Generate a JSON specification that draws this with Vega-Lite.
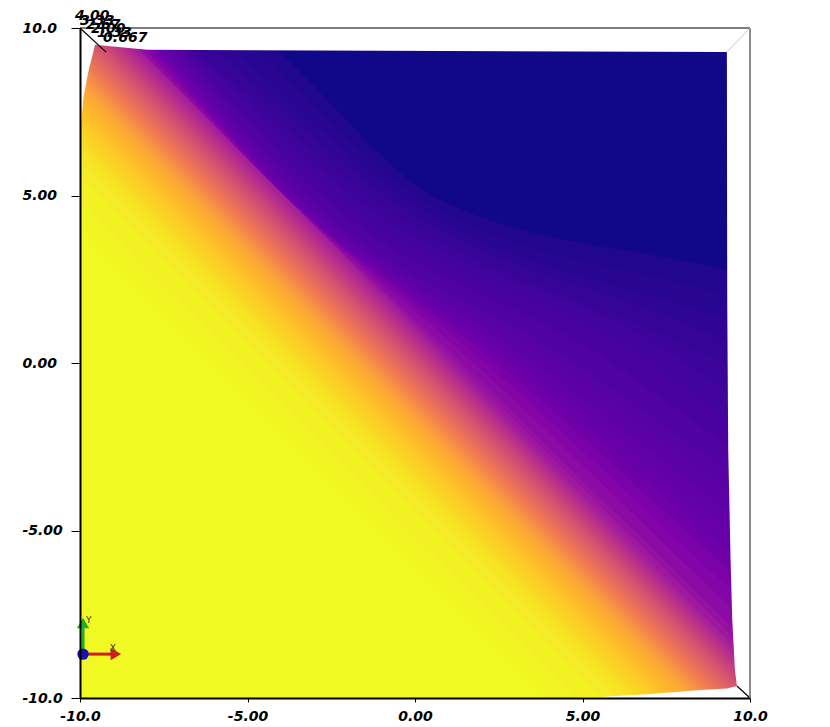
{
  "$schema": "https://vega.github.io/schema/vega-lite/v6.json",
  "width": 670,
  "height": 670,
  "autosize": {"type": "none"},
  "padding": {"left": 80, "top": 28, "right": 80, "bottom": 29},
  "background": "white",
  "config": {"view": {"stroke": null}, "axis": {"grid": false}},
  "datasets": {
    "curved": [
      {"l": 0, "z": 0.02, "x": -10, "y": 10}, {"l": 0, "z": 0.02, "x": 10, "y": 10},
      {"l": 1, "z": 0.125, "x": -10, "y": 14.79}, {"l": 1, "z": 0.125, "x": -4.03, "y": 9.28}, {"l": 1, "z": 0.125, "x": 0.75, "y": 4.87}, {"l": 1, "z": 0.125, "x": 9.31, "y": 2.78}, {"l": 1, "z": 0.125, "x": 10, "y": 2.61},
      {"l": 2, "z": 0.175, "x": -10, "y": 14.03}, {"l": 2, "z": 0.175, "x": -4.7, "y": 9.28}, {"l": 2, "z": 0.175, "x": 0.255, "y": 4.87}, {"l": 2, "z": 0.175, "x": 9.31, "y": 2.03}, {"l": 2, "z": 0.175, "x": 10, "y": 1.815},
      {"l": 3, "z": 0.23, "x": -10, "y": 13.26}, {"l": 3, "z": 0.23, "x": -5.37, "y": 9.28}, {"l": 3, "z": 0.23, "x": -0.24, "y": 4.87}, {"l": 3, "z": 0.23, "x": 9.31, "y": 1.28}, {"l": 3, "z": 0.23, "x": 10, "y": 1.02},
      {"l": 4, "z": 0.29, "x": -10, "y": 12.78}, {"l": 4, "z": 0.29, "x": -5.895, "y": 9.28}, {"l": 4, "z": 0.29, "x": -0.715, "y": 4.87}, {"l": 4, "z": 0.29, "x": 9.31, "y": 0.615}, {"l": 4, "z": 0.29, "x": 10, "y": 0.26},
      {"l": 5, "z": 0.35, "x": -10, "y": 12.3}, {"l": 5, "z": 0.35, "x": -6.42, "y": 9.28}, {"l": 5, "z": 0.35, "x": -1.19, "y": 4.87}, {"l": 5, "z": 0.35, "x": 9.04, "y": 0.09}, {"l": 5, "z": 0.35, "x": 9.31, "y": -0.05}, {"l": 5, "z": 0.35, "x": 10, "y": -0.5},
      {"l": 6, "z": 0.41, "x": -10, "y": 12.405}, {"l": 6, "z": 0.41, "x": -6.57, "y": 9.28}, {"l": 6, "z": 0.41, "x": -1.715, "y": 4.87}, {"l": 6, "z": 0.41, "x": 7.955, "y": 0.09}, {"l": 6, "z": 0.41, "x": 9.31, "y": -0.875}, {"l": 6, "z": 0.41, "x": 10, "y": -1.355},
      {"l": 7, "z": 0.47, "x": -10, "y": 12.51}, {"l": 7, "z": 0.47, "x": -6.72, "y": 9.28}, {"l": 7, "z": 0.47, "x": -2.24, "y": 4.87}, {"l": 7, "z": 0.47, "x": 6.87, "y": 0.09}, {"l": 7, "z": 0.47, "x": 9.31, "y": -1.7}, {"l": 7, "z": 0.47, "x": 10, "y": -2.21},
      {"l": 8, "z": 0.53, "x": -10, "y": 12.57}, {"l": 8, "z": 0.53, "x": -6.865, "y": 9.28}, {"l": 8, "z": 0.53, "x": -2.655, "y": 4.87}, {"l": 8, "z": 0.53, "x": 5.75, "y": 0.09}, {"l": 8, "z": 0.53, "x": 9.31, "y": -2.445}, {"l": 8, "z": 0.53, "x": 10, "y": -2.94},
      {"l": 9, "z": 0.59, "x": -10, "y": 12.63}, {"l": 9, "z": 0.59, "x": -7.01, "y": 9.28}, {"l": 9, "z": 0.59, "x": -3.07, "y": 4.87}, {"l": 9, "z": 0.59, "x": 4.63, "y": 0.09}, {"l": 9, "z": 0.59, "x": 9.31, "y": -3.19}, {"l": 9, "z": 0.59, "x": 10, "y": -3.67},
      {"l": 10, "z": 0.65, "x": -10, "y": 12.46}, {"l": 10, "z": 0.65, "x": -7.16, "y": 9.28}, {"l": 10, "z": 0.65, "x": -3.22, "y": 4.87}, {"l": 10, "z": 0.65, "x": 4.045, "y": 0.09}, {"l": 10, "z": 0.65, "x": 9.31, "y": -3.79}, {"l": 10, "z": 0.65, "x": 10, "y": -4.295},
      {"l": 11, "z": 0.71, "x": -10, "y": 12.29}, {"l": 11, "z": 0.71, "x": -7.31, "y": 9.28}, {"l": 11, "z": 0.71, "x": -3.37, "y": 4.87}, {"l": 11, "z": 0.71, "x": 3.46, "y": 0.09}, {"l": 11, "z": 0.71, "x": 9.31, "y": -4.39}, {"l": 11, "z": 0.71, "x": 10, "y": -4.92},
      {"l": 12, "z": 0.77, "x": -10, "y": 12.135}, {"l": 12, "z": 0.77, "x": -7.46, "y": 9.28}, {"l": 12, "z": 0.77, "x": -3.535, "y": 4.87}, {"l": 12, "z": 0.77, "x": 3.075, "y": 0.09}, {"l": 12, "z": 0.77, "x": 9.31, "y": -4.985}, {"l": 12, "z": 0.77, "x": 10, "y": -5.545},
      {"l": 13, "z": 0.85, "x": -10, "y": 11.98}, {"l": 13, "z": 0.85, "x": -7.61, "y": 9.28}, {"l": 13, "z": 0.85, "x": -3.7, "y": 4.87}, {"l": 13, "z": 0.85, "x": 2.69, "y": 0.09}, {"l": 13, "z": 0.85, "x": 9.31, "y": -5.58}, {"l": 13, "z": 0.85, "x": 10, "y": -6.17},
      {"l": 14, "z": 0.95, "x": -10, "y": 11.8}, {"l": 14, "z": 0.95, "x": -7.73, "y": 9.28}, {"l": 14, "z": 0.95, "x": -3.72, "y": 4.87}, {"l": 14, "z": 0.95, "x": 2.35, "y": 0.09}, {"l": 14, "z": 0.95, "x": 9.31, "y": -6.11}, {"l": 14, "z": 0.95, "x": 10, "y": -6.72},
      {"l": 15, "z": 1.05, "x": -10, "y": 11.62}, {"l": 15, "z": 1.05, "x": -7.85, "y": 9.28}, {"l": 15, "z": 1.05, "x": -3.74, "y": 4.87}, {"l": 15, "z": 1.05, "x": 2.01, "y": 0.09}, {"l": 15, "z": 1.05, "x": 9.31, "y": -6.64}, {"l": 15, "z": 1.05, "x": 10, "y": -7.27},
      {"l": 16, "z": 1.15, "x": -10, "y": 11.43}, {"l": 16, "z": 1.15, "x": -7.97, "y": 9.28}, {"l": 16, "z": 1.15, "x": -3.76, "y": 4.87}, {"l": 16, "z": 1.15, "x": 1.66, "y": 0.09}, {"l": 16, "z": 1.15, "x": 9.31, "y": -7.18}, {"l": 16, "z": 1.15, "x": 10, "y": -7.83},
      {"l": 17, "z": 1.25, "x": -10, "y": 11.24}, {"l": 17, "z": 1.25, "x": -8.1, "y": 9.28}, {"l": 17, "z": 1.25, "x": -3.78, "y": 4.87}, {"l": 17, "z": 1.25, "x": 1.3, "y": 0.09}, {"l": 17, "z": 1.25, "x": 9.31, "y": -7.73}, {"l": 17, "z": 1.25, "x": 10, "y": -8.41},
      {"l": 18, "z": 1.35, "x": -10, "y": 11.16}, {"l": 18, "z": 1.35, "x": -8.15, "y": 9.28}, {"l": 18, "z": 1.35, "x": -3.79, "y": 4.87}, {"l": 18, "z": 1.35, "x": 1.14, "y": 0.09}, {"l": 18, "z": 1.35, "x": 9.31, "y": -7.99}, {"l": 18, "z": 1.35, "x": 10, "y": -8.67},
      {"l": 19, "z": 1.45, "x": -10, "y": 11.07}, {"l": 19, "z": 1.45, "x": -8.21, "y": 9.28}, {"l": 19, "z": 1.45, "x": -3.8, "y": 4.87}, {"l": 19, "z": 1.45, "x": 0.98, "y": 0.09}, {"l": 19, "z": 1.45, "x": 9.31, "y": -8.24}, {"l": 19, "z": 1.45, "x": 10, "y": -8.93}
    ],
    "straight": [
      {"l": 20, "z": 1.525, "x": -10, "y": 10.918}, {"l": 20, "z": 1.525, "x": 10, "y": -9.082},
      {"l": 21, "z": 1.575, "x": -10, "y": 10.85}, {"l": 21, "z": 1.575, "x": 10, "y": -9.15},
      {"l": 22, "z": 1.625, "x": -10, "y": 10.782}, {"l": 22, "z": 1.625, "x": 10, "y": -9.218},
      {"l": 23, "z": 1.675, "x": -10, "y": 10.714}, {"l": 23, "z": 1.675, "x": 10, "y": -9.286},
      {"l": 24, "z": 1.725, "x": -10, "y": 10.645}, {"l": 24, "z": 1.725, "x": 10, "y": -9.355},
      {"l": 25, "z": 1.775, "x": -10, "y": 10.577}, {"l": 25, "z": 1.775, "x": 10, "y": -9.423},
      {"l": 26, "z": 1.825, "x": -10, "y": 10.509}, {"l": 26, "z": 1.825, "x": 10, "y": -9.491},
      {"l": 27, "z": 1.875, "x": -10, "y": 10.441}, {"l": 27, "z": 1.875, "x": 10, "y": -9.559},
      {"l": 28, "z": 1.925, "x": -10, "y": 10.37}, {"l": 28, "z": 1.925, "x": 10, "y": -9.63},
      {"l": 29, "z": 1.975, "x": -10, "y": 10.295}, {"l": 29, "z": 1.975, "x": 10, "y": -9.705},
      {"l": 30, "z": 2.025, "x": -10, "y": 10.22}, {"l": 30, "z": 2.025, "x": 10, "y": -9.78},
      {"l": 31, "z": 2.075, "x": -10, "y": 10.145}, {"l": 31, "z": 2.075, "x": 10, "y": -9.855},
      {"l": 32, "z": 2.125, "x": -10, "y": 10.07}, {"l": 32, "z": 2.125, "x": 10, "y": -9.93},
      {"l": 33, "z": 2.175, "x": -10, "y": 9.995}, {"l": 33, "z": 2.175, "x": 10, "y": -10.005},
      {"l": 34, "z": 2.225, "x": -10, "y": 9.92}, {"l": 34, "z": 2.225, "x": 10, "y": -10.08},
      {"l": 35, "z": 2.275, "x": -10, "y": 9.845}, {"l": 35, "z": 2.275, "x": 10, "y": -10.155},
      {"l": 36, "z": 2.325, "x": -10, "y": 9.7675}, {"l": 36, "z": 2.325, "x": 10, "y": -10.2325},
      {"l": 37, "z": 2.375, "x": -10, "y": 9.686}, {"l": 37, "z": 2.375, "x": 10, "y": -10.314},
      {"l": 38, "z": 2.425, "x": -10, "y": 9.605}, {"l": 38, "z": 2.425, "x": 10, "y": -10.395},
      {"l": 39, "z": 2.475, "x": -10, "y": 9.524}, {"l": 39, "z": 2.475, "x": 10, "y": -10.476},
      {"l": 40, "z": 2.525, "x": -10, "y": 9.4425}, {"l": 40, "z": 2.525, "x": 10, "y": -10.5575},
      {"l": 41, "z": 2.575, "x": -10, "y": 9.361}, {"l": 41, "z": 2.575, "x": 10, "y": -10.639},
      {"l": 42, "z": 2.625, "x": -10, "y": 9.28}, {"l": 42, "z": 2.625, "x": 10, "y": -10.72},
      {"l": 43, "z": 2.675, "x": -10, "y": 9.199}, {"l": 43, "z": 2.675, "x": 10, "y": -10.801},
      {"l": 44, "z": 2.725, "x": -10, "y": 9.117}, {"l": 44, "z": 2.725, "x": 10, "y": -10.883},
      {"l": 45, "z": 2.775, "x": -10, "y": 9.036}, {"l": 45, "z": 2.775, "x": 10, "y": -10.964},
      {"l": 46, "z": 2.825, "x": -10, "y": 8.954}, {"l": 46, "z": 2.825, "x": 10, "y": -11.046},
      {"l": 47, "z": 2.875, "x": -10, "y": 8.872}, {"l": 47, "z": 2.875, "x": 10, "y": -11.128},
      {"l": 48, "z": 2.925, "x": -10, "y": 8.79}, {"l": 48, "z": 2.925, "x": 10, "y": -11.21},
      {"l": 49, "z": 2.975, "x": -10, "y": 8.709}, {"l": 49, "z": 2.975, "x": 10, "y": -11.291},
      {"l": 50, "z": 3.025, "x": -10, "y": 8.627}, {"l": 50, "z": 3.025, "x": 10, "y": -11.373},
      {"l": 51, "z": 3.075, "x": -10, "y": 8.545}, {"l": 51, "z": 3.075, "x": 10, "y": -11.455},
      {"l": 52, "z": 3.125, "x": -10, "y": 8.464}, {"l": 52, "z": 3.125, "x": 10, "y": -11.536},
      {"l": 53, "z": 3.175, "x": -10, "y": 8.382}, {"l": 53, "z": 3.175, "x": 10, "y": -11.618},
      {"l": 54, "z": 3.225, "x": -10, "y": 8.3}, {"l": 54, "z": 3.225, "x": 10, "y": -11.7},
      {"l": 55, "z": 3.275, "x": -10, "y": 8.159}, {"l": 55, "z": 3.275, "x": 10, "y": -11.841},
      {"l": 56, "z": 3.325, "x": -10, "y": 8.019}, {"l": 56, "z": 3.325, "x": 10, "y": -11.981},
      {"l": 57, "z": 3.375, "x": -10, "y": 7.878}, {"l": 57, "z": 3.375, "x": 10, "y": -12.122},
      {"l": 58, "z": 3.425, "x": -10, "y": 7.7375}, {"l": 58, "z": 3.425, "x": 10, "y": -12.2625},
      {"l": 59, "z": 3.475, "x": -10, "y": 7.597}, {"l": 59, "z": 3.475, "x": 10, "y": -12.403},
      {"l": 60, "z": 3.525, "x": -10, "y": 7.456}, {"l": 60, "z": 3.525, "x": 10, "y": -12.544},
      {"l": 61, "z": 3.575, "x": -10, "y": 7.293}, {"l": 61, "z": 3.575, "x": 10, "y": -12.707},
      {"l": 62, "z": 3.625, "x": -10, "y": 7.114}, {"l": 62, "z": 3.625, "x": 10, "y": -12.886},
      {"l": 63, "z": 3.675, "x": -10, "y": 6.936}, {"l": 63, "z": 3.675, "x": 10, "y": -13.064},
      {"l": 64, "z": 3.725, "x": -10, "y": 6.757}, {"l": 64, "z": 3.725, "x": 10, "y": -13.243},
      {"l": 65, "z": 3.775, "x": -10, "y": 6.579}, {"l": 65, "z": 3.775, "x": 10, "y": -13.421},
      {"l": 66, "z": 3.825, "x": -10, "y": 6.4}, {"l": 66, "z": 3.825, "x": 10, "y": -13.6},
      {"l": 67, "z": 3.875, "x": -10, "y": 6.0}, {"l": 67, "z": 3.875, "x": 10, "y": -14.0},
      {"l": 68, "z": 3.925, "x": -10, "y": 5.6}, {"l": 68, "z": 3.925, "x": 10, "y": -14.4},
      {"l": 69, "z": 3.975, "x": -10, "y": 4.8}, {"l": 69, "z": 3.975, "x": 10, "y": -15.2},
      {"l": 70, "z": 4.0, "x": -10, "y": 4.0}, {"l": 70, "z": 4.0, "x": 10, "y": -16.0}
    ],
    "maskTop": [
      {"x": -10, "y": 10, "y2": 6.8}, {"x": -9.9, "y": 10, "y2": 7.9}, {"x": -9.75, "y": 10, "y2": 8.7},
      {"x": -9.55, "y": 10, "y2": 9.5}, {"x": -8, "y": 10, "y2": 9.35}, {"x": 9.31, "y": 10, "y2": 9.28},
      {"x": 9.32, "y": 10, "y2": 1.88}, {"x": 9.35, "y": 10, "y2": -2.6}, {"x": 9.42, "y": 10, "y2": -5.88},
      {"x": 9.47, "y": 10, "y2": -7.67}, {"x": 9.55, "y": 10, "y2": -9.16}, {"x": 9.61, "y": 10, "y2": -9.64},
      {"x": 9.62, "y": 10, "y2": -10}, {"x": 10, "y": 10, "y2": -10}
    ],
    "maskBottom": [
      {"x": 4.0, "y": -10, "y2": -10}, {"x": 5.52, "y": -9.97, "y2": -10}, {"x": 7.01, "y": -9.88, "y2": -10},
      {"x": 8.51, "y": -9.76, "y2": -10}, {"x": 9.31, "y": -9.72, "y2": -10}, {"x": 9.61, "y": -9.64, "y2": -10},
      {"x": 10, "y": -9.64, "y2": -10}
    ],
    "boxBlack": [
      {"x": -10, "y": 10, "x2": 10, "y2": 10},
      {"x": -10, "y": 10, "x2": -9.22, "y2": 9.28},
      {"x": 10, "y": -10, "x2": 9.61, "y2": -9.64}
    ],
    "boxGray": [{"x": 10, "y": 10, "x2": 10, "y2": -10}],
    "boxLight": [{"x": 10, "y": 10, "x2": 9.31, "y2": 9.28}],
    "zLabels": [
      {"x": -10.15, "y": 10.36, "label": "4.00"},
      {"x": -10.0, "y": 10.22, "label": "3.33"},
      {"x": -9.82, "y": 10.09, "label": "2.67"},
      {"x": -9.67, "y": 9.97, "label": "2.00"},
      {"x": -9.49, "y": 9.84, "label": "1.33"},
      {"x": -9.31, "y": 9.7, "label": "0.667"}
    ],
    "shaftX": [{"x": -9.91, "y": -8.69, "x2": -8.99, "y2": -8.69}],
    "shaftY": [{"x": -9.91, "y": -8.69, "x2": -9.91, "y2": -7.91}],
    "headX": [{"x": -8.93, "y": -8.69}],
    "headY": [{"x": -9.91, "y": -7.76}],
    "origin": [{"x": -9.91, "y": -8.69}],
    "triadLabels": [{"x": -9.02, "y": -8.5, "label": "X"}, {"x": -9.74, "y": -7.67, "label": "Y"}]
  },
  "encoding": {
    "x": {
      "field": "x", "type": "quantitative", "title": null,
      "scale": {"domain": [-10, 10], "nice": false, "zero": false},
      "axis": {
        "title": null, "values": [-10, -5, 0, 5, 10],
        "labelExpr": "datum.value==10?'10.0':datum.value==-10?'-10.0':datum.value==5?'5.00':datum.value==-5?'-5.00':'0.00'",
        "domainColor": "black", "domainWidth": 2, "tickColor": "black", "tickSize": 4, "tickWidth": 1,
        "labelPadding": 7, "labelFont": "DejaVu Sans", "labelFontStyle": "italic", "labelFontWeight": "bold", "labelFontSize": 14,
        "labelColor": "black", "labelFlush": false, "labelOverlap": false, "grid": false, "zindex": 1
      }
    },
    "y": {
      "field": "y", "type": "quantitative", "title": null, "stack": null,
      "scale": {"domain": [-10, 10], "nice": false, "zero": false},
      "axis": {
        "title": null, "values": [-10, -5, 0, 5, 10],
        "labelExpr": "datum.value==10?'10.0':datum.value==-10?'-10.0':datum.value==5?'5.00':datum.value==-5?'-5.00':'0.00'",
        "domainColor": "black", "domainWidth": 2, "tickColor": "black", "tickSize": 9, "tickWidth": 1,
        "labelPadding": 49, "labelAlign": "left", "labelBaseline": "middle",
        "labelFont": "DejaVu Sans", "labelFontStyle": "italic", "labelFontWeight": "bold", "labelFontSize": 14,
        "labelColor": "black", "labelFlush": false, "labelOverlap": false, "grid": false, "zindex": 1
      }
    }
  },
  "layer": [
    {
      "data": {"name": "curved"},
      "mark": {"type": "area", "interpolate": "monotone", "clip": true},
      "encoding": {
        "y2": {"datum": -10},
        "fill": {"field": "z", "type": "quantitative", "scale": {"scheme": "plasma", "domain": [0, 4]}, "legend": null},
        "detail": {"field": "l", "type": "nominal"}
      }
    },
    {
      "data": {"name": "straight"},
      "mark": {"type": "area", "interpolate": "linear", "clip": true},
      "encoding": {
        "y2": {"datum": -10},
        "fill": {"field": "z", "type": "quantitative", "scale": {"scheme": "plasma", "domain": [0, 4]}, "legend": null},
        "detail": {"field": "l", "type": "nominal"}
      }
    },
    {
      "data": {"name": "maskTop"},
      "mark": {"type": "area", "color": "white", "interpolate": "linear"},
      "encoding": {"y2": {"field": "y2"}}
    },
    {
      "data": {"name": "maskBottom"},
      "mark": {"type": "area", "color": "white", "interpolate": "linear"},
      "encoding": {"y2": {"field": "y2"}}
    },
    {
      "data": {"name": "boxBlack"},
      "mark": {"type": "rule", "color": "black", "strokeWidth": 1.2},
      "encoding": {"x2": {"field": "x2"}, "y2": {"field": "y2"}}
    },
    {
      "data": {"name": "boxGray"},
      "mark": {"type": "rule", "color": "#8c8c8c", "strokeWidth": 2},
      "encoding": {"x2": {"field": "x2"}, "y2": {"field": "y2"}}
    },
    {
      "data": {"name": "boxLight"},
      "mark": {"type": "rule", "color": "#c8c8c8", "strokeWidth": 1},
      "encoding": {"x2": {"field": "x2"}, "y2": {"field": "y2"}}
    },
    {
      "data": {"name": "shaftX"},
      "mark": {"type": "rule", "color": "#d01c1c", "strokeWidth": 3},
      "encoding": {"x2": {"field": "x2"}, "y2": {"field": "y2"}}
    },
    {
      "data": {"name": "shaftY"},
      "mark": {"type": "rule", "color": "#1fb01f", "strokeWidth": 3},
      "encoding": {"x2": {"field": "x2"}, "y2": {"field": "y2"}}
    },
    {
      "data": {"name": "headX"},
      "mark": {"type": "point", "shape": "triangle-right", "filled": true, "color": "#d01c1c", "size": 150, "opacity": 1},
      "encoding": {}
    },
    {
      "data": {"name": "headY"},
      "mark": {"type": "point", "shape": "triangle-up", "filled": true, "color": "#1fb01f", "size": 150, "opacity": 1},
      "encoding": {}
    },
    {
      "data": {"name": "origin"},
      "mark": {"type": "point", "shape": "circle", "filled": true, "color": "#1414b4", "size": 130, "opacity": 1},
      "encoding": {}
    },
    {
      "data": {"name": "triadLabels"},
      "mark": {"type": "text", "font": "DejaVu Sans", "fontSize": 9, "color": "#333333", "align": "center", "baseline": "middle"},
      "encoding": {"text": {"field": "label"}}
    },
    {
      "data": {"name": "zLabels"},
      "mark": {"type": "text", "font": "DejaVu Sans", "fontSize": 14, "fontStyle": "italic", "fontWeight": "bold", "color": "black", "align": "left", "baseline": "middle"},
      "encoding": {"text": {"field": "label"}}
    }
  ]
}
